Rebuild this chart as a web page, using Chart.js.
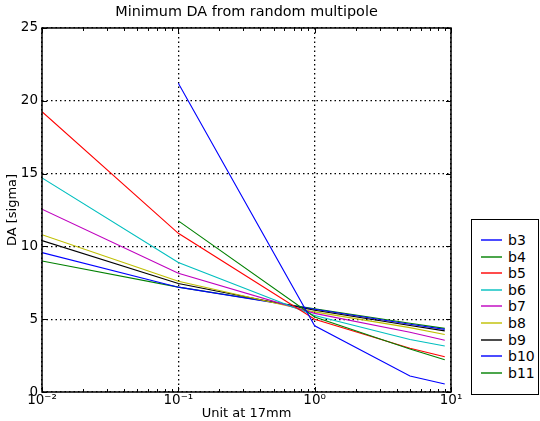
<!DOCTYPE html>
<html>
<head>
<meta charset="utf-8">
<script src="https://cdn.jsdelivr.net/npm/chart.js@4/dist/chart.umd.min.js"></script>
<style>
  html, body { margin: 0; padding: 0; background: #fff; }
  #wrap { position: relative; width: 540px; height: 421px; }
  #legend {
    position: absolute; left: 471px; top: 219px; width: 66px; height: 174px;
    border: 1px solid #000; background: #fff;
    font-family: "DejaVu Sans", sans-serif; font-size: 14px; color: #000;
    box-sizing: content-box;
  }
  .item { position: absolute; height: 16px; line-height: 16px; white-space: nowrap; }
  .sw { position: absolute; left: 9px; width: 21px; height: 2px; opacity: 0.7; }
</style>
</head>
<body>
<div id="wrap">
  <canvas id="c" width="540" height="421"></canvas>
  <div id="legend"></div>
</div>
<script>
const xValues = [0.01, 0.1, 1, 5, 9];
const seriesNames = ["b3", "b4", "b5", "b6", "b7", "b8", "b9", "b10", "b11"];
const b3  = [null, 21.2, 4.55, 1.1, 0.55];
const b4  = [null, 11.75, 5.15, 2.95, 2.22];
const b5  = [19.25, 10.9, 5.0, 3.0, 2.42];
const b6  = [14.7, 8.9, 5.25, 3.6, 3.16];
const b7  = [12.55, 8.15, 5.4, 4.1, 3.55];
const b8  = [10.8, 7.6, 5.5, 4.42, 3.95];
const b9  = [10.4, 7.45, 5.62, 4.57, 4.2];
const b10 = [9.57, 7.2, 5.68, 4.65, 4.3];
const b11 = [9.0, 7.2, 5.72, 4.72, 4.37];
const seriesValues = [b3, b4, b5, b6, b7, b8, b9, b10, b11];
const seriesColors = ["#0000ff", "#008000", "#ff0000", "#00bfbf", "#bf00bf", "#bfbf00", "#000000", "#0000ff", "#008000"];
const xMajorTicks = [0.01, 0.1, 1, 10];
const xTickLabels = ["10\u207B\u00B2", "10\u207B\u00B9", "10\u2070", "10\u00B9"];
const yTicks = [0, 5, 10, 15, 20, 25];

const FONT = "'DejaVu Sans', sans-serif";

const datasets = seriesNames.map((name, i) => ({
  label: name,
  data: xValues.map((x, j) => ({ x: x, y: seriesValues[i][j] })),
  borderColor: seriesColors[i],
  backgroundColor: seriesColors[i],
  borderWidth: 1.1,
  pointRadius: 0,
  tension: 0,
  spanGaps: false
}));

const frameTicks = {
  id: 'frameTicks',
  afterDraw(chart) {
    const { ctx, chartArea: a, scales } = chart;
    const xs = scales.x, ys = scales.y;
    ctx.save();
    ctx.strokeStyle = '#000';
    ctx.lineWidth = 1;
    ctx.setLineDash([]);
    ctx.beginPath();
    yTicks.forEach(v => {
      const py = Math.round(ys.getPixelForValue(v)) + 0.5;
      ctx.moveTo(a.left, py); ctx.lineTo(a.left + 5, py);
      ctx.moveTo(a.right, py); ctx.lineTo(a.right - 5, py);
    });
    xMajorTicks.forEach(v => {
      const px = Math.round(xs.getPixelForValue(v)) + 0.5;
      ctx.moveTo(px, a.bottom); ctx.lineTo(px, a.bottom - 5);
      ctx.moveTo(px, a.top); ctx.lineTo(px, a.top + 5);
    });
    [0.01, 0.1, 1].forEach(d => {
      for (let k = 2; k <= 9; k++) {
        const px = Math.round(xs.getPixelForValue(d * k)) + 0.5;
        ctx.moveTo(px, a.bottom); ctx.lineTo(px, a.bottom - 3);
        ctx.moveTo(px, a.top); ctx.lineTo(px, a.top + 3);
      }
    });
    ctx.stroke();
    ctx.lineWidth = 1.5;
    ctx.strokeRect(a.left, a.top, a.right - a.left, a.bottom - a.top);
    ctx.restore();
  }
};

new Chart(document.getElementById('c'), {
  type: 'line',
  data: { datasets },
  options: {
    responsive: false,
    animation: false,
    layout: { padding: { left: 0, right: 89, top: 0, bottom: 0 } },
    plugins: {
      legend: { display: false },
      tooltip: { enabled: false },
      title: {
        display: true,
        text: 'Minimum DA from random multipole',
        fullSize: false,
        color: '#000',
        font: { family: FONT, size: 14.4, weight: 'normal' },
        padding: { top: 4, bottom: 6.7 }
      }
    },
    scales: {
      x: {
        type: 'logarithmic',
        min: 0.01,
        max: 10,
        afterBuildTicks(scale) {
          scale.ticks = xMajorTicks.map(v => ({ value: v, major: true }));
        },
        afterFit(scale) { scale.height = 29; },
        ticks: {
          color: '#000',
          font: { family: FONT, size: 13.5 },
          padding: 0,
          maxRotation: 0,
          autoSkip: false,
          callback: (v) => {
            const i = xMajorTicks.findIndex(t => Math.abs(t - v) / t < 1e-6);
            return i >= 0 ? xTickLabels[i] : '';
          }
        },
        grid: { color: '#000', lineWidth: 1.3, drawTicks: false },
        border: { display: false, dash: [1.5, 3] },
        title: {
          display: true, text: 'Unit at 17mm', color: '#000',
          font: { family: FONT, size: 13 }, padding: 0
        }
      },
      y: {
        type: 'linear',
        min: 0,
        max: 25,
        afterBuildTicks(scale) {
          scale.ticks = yTicks.map(v => ({ value: v }));
        },
        afterFit(scale) { scale.width = 42; },
        ticks: {
          color: '#000',
          font: { family: FONT, size: 13.5 },
          padding: 4
        },
        grid: { color: '#000', lineWidth: 1.3, drawTicks: false },
        border: { display: false, dash: [1.5, 3] },
        title: {
          display: true, text: 'DA [sigma]', color: '#000',
          font: { family: FONT, size: 13 }, padding: { top: 5, bottom: 0 }
        }
      }
    }
  },
  plugins: [frameTicks]
});

const legend = document.getElementById('legend');
seriesNames.forEach((name, i) => {
  const top = Math.round(12 + i * 16.6);
  const sw = document.createElement('div');
  sw.className = 'sw';
  sw.style.top = (top + 7) + 'px';
  sw.style.backgroundColor = seriesColors[i];
  legend.appendChild(sw);
  const d = document.createElement('div');
  d.className = 'item';
  d.style.top = top + 'px';
  d.style.left = '36px';
  d.textContent = name;
  legend.appendChild(d);
});
</script>
</body>
</html>
